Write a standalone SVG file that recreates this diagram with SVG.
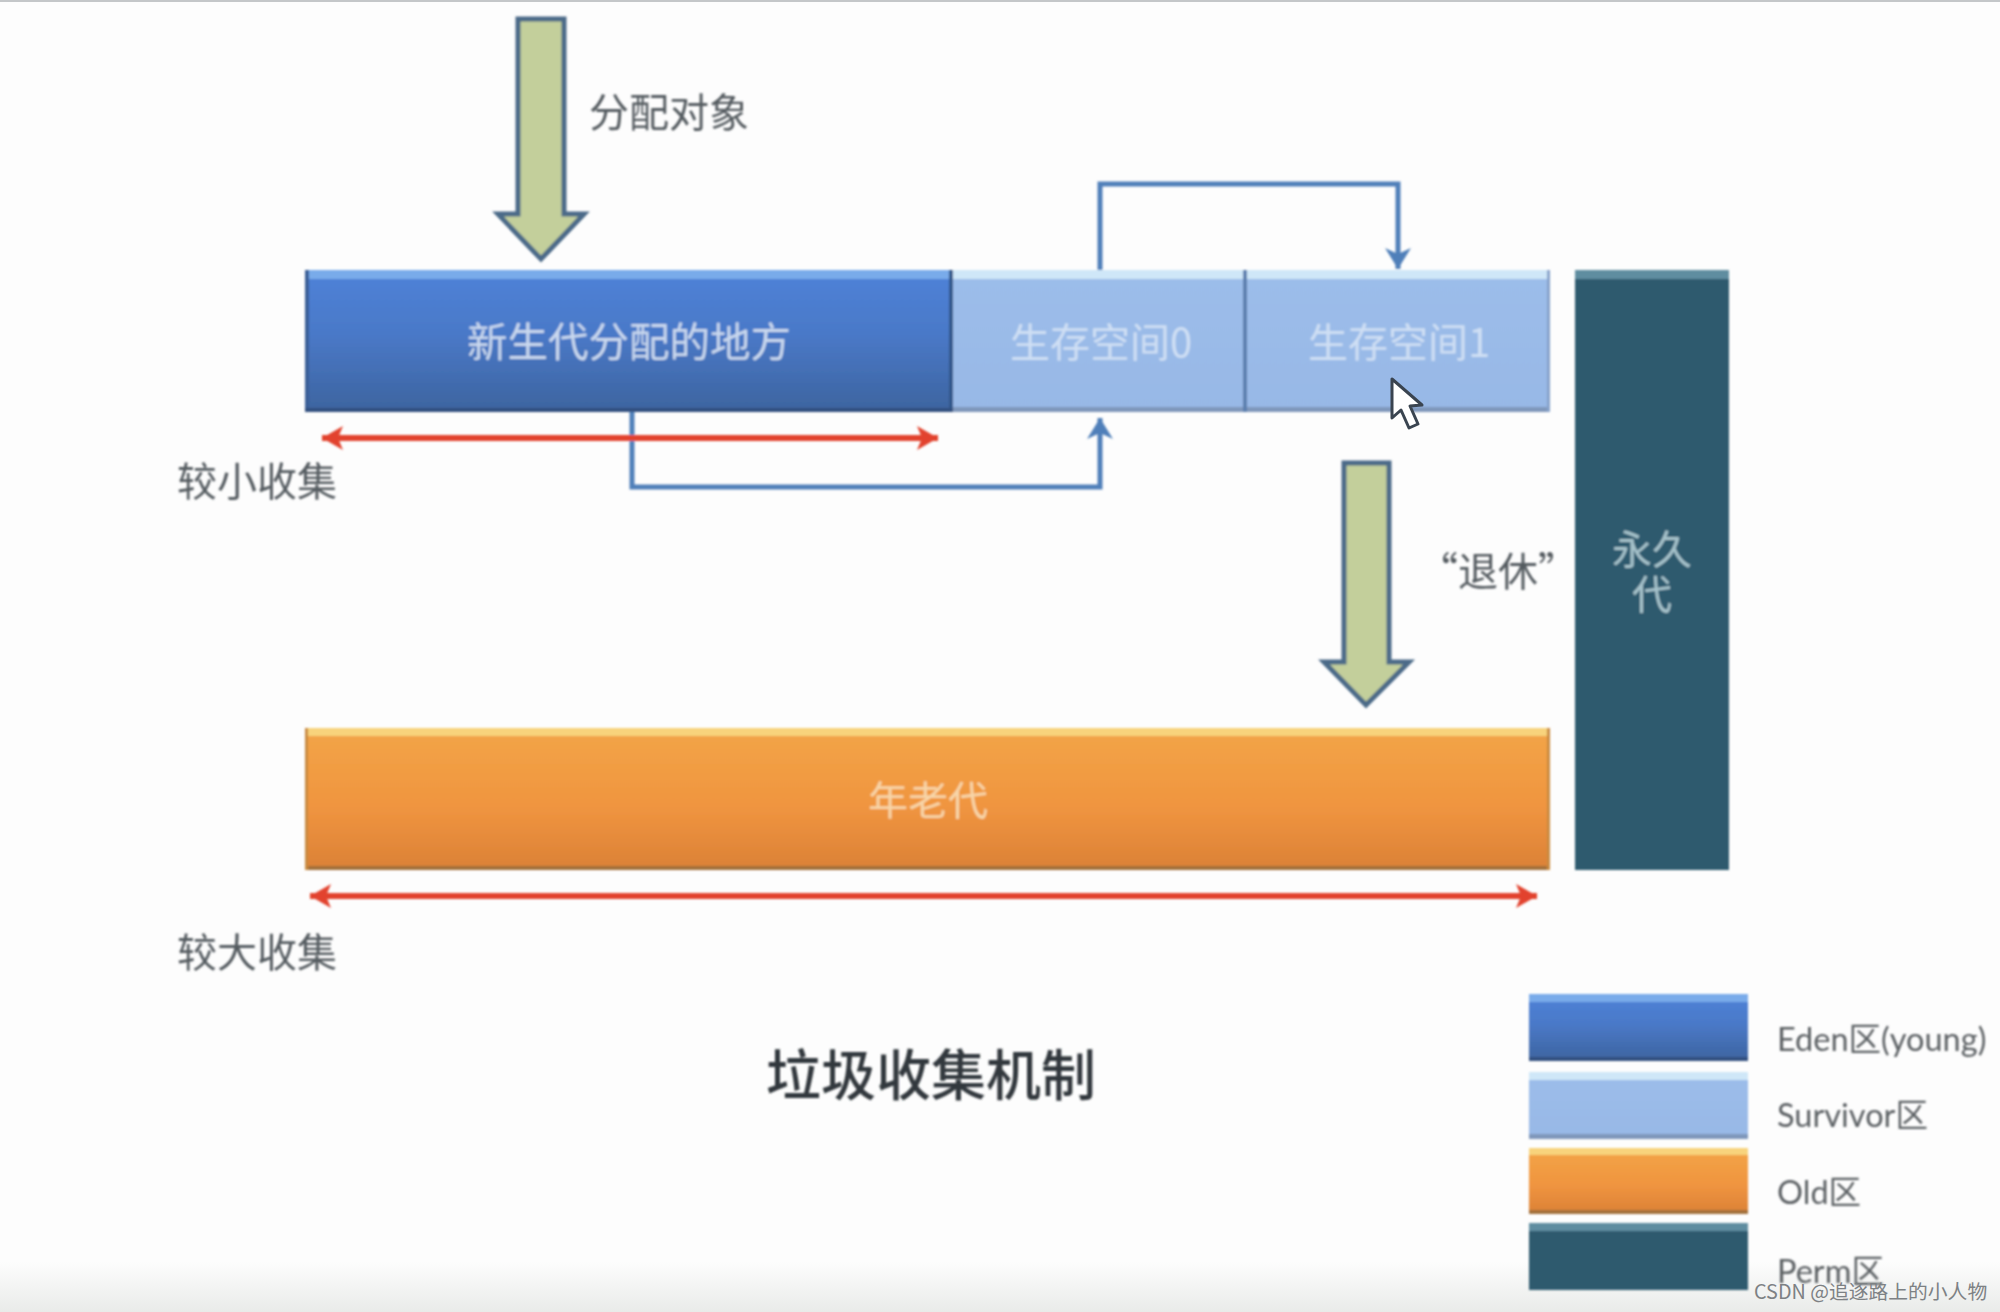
<svg xmlns="http://www.w3.org/2000/svg" width="2000" height="1312" viewBox="0 0 2000 1312">
<defs>
<linearGradient id="gEden" x1="0" y1="0" x2="0" y2="1"><stop offset="0" stop-color="#4f82d8"/><stop offset=".45" stop-color="#4a79c8"/><stop offset="1" stop-color="#3d649f"/></linearGradient>
<linearGradient id="gSurv" x1="0" y1="0" x2="0" y2="1"><stop offset="0" stop-color="#9cbdea"/><stop offset="1" stop-color="#98b8e6"/></linearGradient>
<linearGradient id="gOld" x1="0" y1="0" x2="0" y2="1"><stop offset="0" stop-color="#f3a547"/><stop offset=".55" stop-color="#f09540"/><stop offset="1" stop-color="#db8136"/></linearGradient>
<linearGradient id="gBottom" x1="0" y1="0" x2="0" y2="1"><stop offset="0" stop-color="#fdfdfd"/><stop offset="1" stop-color="#e9ebe9"/></linearGradient>
<filter id="soft" x="-2%" y="-2%" width="104%" height="104%"><feGaussianBlur stdDeviation="1.2"/></filter>
<marker id="headBlue" markerUnits="userSpaceOnUse" markerWidth="28" markerHeight="30" refX="21" refY="14" orient="auto"><path d="M0 1 L21 14 L0 27 L6 14 Z" fill="#4f7fb9"/></marker>
<marker id="headRedEnd" markerUnits="userSpaceOnUse" markerWidth="26" markerHeight="28" refX="21" refY="13" orient="auto"><path d="M0 1 L21 13 L0 25 L5 13 Z" fill="#e2432d"/></marker>
<marker id="headRedStart" markerUnits="userSpaceOnUse" markerWidth="26" markerHeight="28" refX="1" refY="13" orient="auto"><path d="M22 1 L1 13 L22 25 L17 13 Z" fill="#e2432d"/></marker>
</defs>
<style>
text{font-family:"Noto Sans CJK SC","Noto Sans",sans-serif}
.dark{fill:#555b60;font-size:40px;text-anchor:middle}
.inner{font-size:40px;text-anchor:middle}
.legend{font-family:"Lato","Noto Sans CJK SC",sans-serif;fill:#5c6064;font-size:32.5px}
.big{stroke:#4b6a88;stroke-width:5;fill:#c3cf9b;stroke-linejoin:miter}
.blue{fill:none;stroke:#4f7fb9;stroke-width:5}
.red{fill:none;stroke:#e2432d;stroke-width:6}
</style>
<rect width="2000" height="1312" fill="#fdfdfd"/>
<rect y="1262" width="2000" height="50" fill="url(#gBottom)"/>
<rect width="2000" height="2" fill="#c4c7c9"/>
<g filter="url(#soft)">
<g id="node-eden">
<rect x="305" y="270" width="648" height="142" fill="url(#gEden)"/>
<rect x="305" y="270" width="648" height="9" fill="#79abea"/>
<rect x="305" y="270" width="4" height="142" fill="#3a5f98"/>
<rect x="949" y="270" width="4" height="142" fill="#33568a"/>
<rect x="305" y="408" width="648" height="4" fill="#314f7f"/>
<text class="inner" x="629" y="357" fill="#c9d8ee" style="font-size:40.5px">新生代分配的地方</text>
</g>
<g id="node-survivor0">
<rect x="953" y="270" width="292" height="142" fill="url(#gSurv)"/>
<rect x="953" y="270" width="292" height="9" fill="#cfe7f8"/>
<rect x="953" y="407" width="292" height="5" fill="#7f97bb"/>
<text class="inner" x="1101" y="357" fill="#cfdff4">生存空间0</text>
</g>
<g id="node-survivor1">
<rect x="1245" y="270" width="305" height="142" fill="url(#gSurv)"/>
<rect x="1245" y="270" width="305" height="9" fill="#cfe7f8"/>
<rect x="1245" y="407" width="305" height="5" fill="#7f97bb"/>
<rect x="1243" y="270" width="4" height="142" fill="#5c7fae"/>
<rect x="1547" y="270" width="3" height="142" fill="#86a2ca"/>
<text class="inner" x="1399" y="357" fill="#cfdff4">生存空间1</text>
</g>
<g id="node-perm">
<rect x="1575" y="270" width="154" height="600" fill="#2f5a6e"/>
<rect x="1575" y="270" width="154" height="9" fill="#5f8da0"/>
<text class="inner" fill="#a6c2cb"><tspan x="1652" y="564">永久</tspan><tspan x="1652" y="609">代</tspan></text>
</g>
<g id="node-old">
<rect x="305" y="728" width="1245" height="142" fill="url(#gOld)"/>
<rect x="305" y="728" width="1245" height="8" fill="#f8d37b"/>
<rect x="305" y="866" width="1245" height="4" fill="#a26f3a"/>
<rect x="305" y="728" width="3" height="142" fill="#c98a40"/>
<rect x="1547" y="728" width="3" height="142" fill="#c98a40"/>
<text class="inner" x="928" y="815" fill="#f8d5a8">年老代</text>
</g>
<g id="connectors">
<path class="big" d="M518 19H564V214H584L541 259L498 214H518Z"/>
<path class="big" d="M1344 463H1389V662H1409L1366 705L1324 662H1344Z"/>
<path class="blue" d="M632 412V487H1100V418" marker-end="url(#headBlue)"/>
<path class="blue" d="M1100 270V184H1398V269" marker-end="url(#headBlue)"/>
<path class="red" d="M322 438H938" marker-start="url(#headRedStart)" marker-end="url(#headRedEnd)"/>
<path class="red" d="M310 896H1537" marker-start="url(#headRedStart)" marker-end="url(#headRedEnd)"/>
</g>
<g id="labels">
<text class="dark" x="669" y="127">分配对象</text>
<text class="dark" x="257" y="496">较小收集</text>
<text class="dark" x="257" y="967">较大收集</text>
<text class="dark" x="1498" y="586">“退休”</text>
<text x="931" y="1095" text-anchor="middle" font-size="55" font-weight="500" fill="#33383c">垃圾收集机制</text>
</g>
<g id="legend-eden">
<rect x="1529" y="994" width="219" height="67" fill="url(#gEden)"/>
<rect x="1529" y="994" width="219" height="8" fill="#79abea"/>
<rect x="1529" y="1057" width="219" height="4" fill="#314f7f"/>
<text class="legend" x="1777" y="1051">Eden区(young)</text>
</g>
<g id="legend-survivor">
<rect x="1529" y="1072" width="219" height="67" fill="url(#gSurv)"/>
<rect x="1529" y="1072" width="219" height="8" fill="#cfe7f8"/>
<rect x="1529" y="1134" width="219" height="5" fill="#7f97bb"/>
<text class="legend" x="1777" y="1127">Survivor区</text>
</g>
<g id="legend-old">
<rect x="1529" y="1148" width="219" height="66" fill="url(#gOld)"/>
<rect x="1529" y="1148" width="219" height="7" fill="#f8d37b"/>
<rect x="1529" y="1210" width="219" height="4" fill="#a26f3a"/>
<text class="legend" x="1777" y="1204">Old区</text>
</g>
<g id="legend-perm">
<rect x="1529" y="1223" width="219" height="67" fill="#2f5a6e"/>
<rect x="1529" y="1223" width="219" height="8" fill="#5f8da0"/>
<text class="legend" x="1777" y="1283">Perm区</text>
</g>
</g>
<path id="cursor" d="M1392 379V418L1401 410L1409 428L1418 424L1410 406L1422 405Z" fill="#fff" stroke="#3a4450" stroke-width="3" stroke-linejoin="round"/>
<text id="watermark" x="1754" y="1299" font-size="19.8" fill="#7d8184">CSDN @追逐路上的小人物</text>
</svg>
